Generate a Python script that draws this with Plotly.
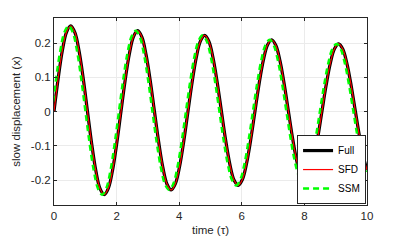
import plotly.graph_objects as go

t = [0, 0.1338, 0.2675, 0.4013, 0.535, 0.6688, 0.8025, 0.9363, 1.07, 1.2038, 1.3375, 1.4713,
     1.605, 1.7388, 1.8725, 2.0063, 2.14, 2.2738, 2.4075, 2.5413, 2.675, 2.8088, 2.9425, 3.0763,
     3.21, 3.3438, 3.4775, 3.6113, 3.745, 3.8788, 4.0125, 4.1463, 4.28, 4.4138, 4.5475, 4.6813,
     4.815, 4.9488, 5.0825, 5.2163, 5.35, 5.4838, 5.6175, 5.7513, 5.885, 6.0188, 6.1525, 6.2863,
     6.42, 6.5538, 6.6875, 6.8213, 6.955, 7.0888, 7.2225, 7.3563, 7.49, 7.6238, 7.7575, 7.8913,
     8.025, 8.1588, 8.2925, 8.4263, 8.56, 8.6938, 8.8275, 8.9613, 9.095, 9.2288, 9.3625, 9.4963,
     9.63, 9.7638, 9.8975, 10.0]

full = [0, 0.0969, 0.1783, 0.2321, 0.2503, 0.2304, 0.1757, 0.0947, 0, -0.0940, -0.1731, -0.2252,
        -0.2429, -0.2236, -0.1706, -0.0920, 0, 0.0913, 0.1680, 0.2188, 0.2359, 0.2171, 0.1655, 0.0893,
        0, -0.0886, -0.1631, -0.2123, -0.2290, -0.2107, -0.1607, -0.0866, 0, 0.0860, 0.1584, 0.2061,
        0.2223, 0.2046, 0.1561, 0.0841, 0, -0.0835, -0.1537, -0.2001, -0.2158, -0.1986, -0.1515, -0.0817,
        0, 0.0811, 0.1493, 0.1943, 0.2095, 0.1928, 0.1470, 0.0793, 0, -0.0787, -0.1449, -0.1886,
        -0.2033, -0.1872, -0.1427, -0.0770, 0, 0.0764, 0.1406, 0.1830, 0.1974, 0.1817, 0.1385, 0.0747,
        0, -0.0742, -0.1365, -0.1706]

sfd = [0, 0.0969, 0.1783, 0.2321, 0.2503, 0.2304, 0.1757, 0.0947, 0, -0.0940, -0.1731, -0.2252,
       -0.2429, -0.2236, -0.1706, -0.0920, 0, 0.0913, 0.1680, 0.2188, 0.2359, 0.2171, 0.1655, 0.0893,
       0, -0.0886, -0.1631, -0.2123, -0.2290, -0.2107, -0.1607, -0.0866, 0, 0.0860, 0.1584, 0.2061,
       0.2223, 0.2046, 0.1561, 0.0841, 0, -0.0835, -0.1537, -0.2001, -0.2158, -0.1986, -0.1515, -0.0817,
       0, 0.0811, 0.1493, 0.1943, 0.2095, 0.1928, 0.1470, 0.0793, 0, -0.0787, -0.1449, -0.1886,
       -0.2033, -0.1872, -0.1427, -0.0770, 0, 0.0764, 0.1406, 0.1830, 0.1974, 0.1817, 0.1385, 0.0747,
       0, -0.0742, -0.1365, -0.1706]

# SSM runs slightly ahead of Full (its own sample times)
t_ssm = [-0.065, 0.0688, 0.2025, 0.3363, 0.47, 0.6038, 0.7375, 0.8713, 1.005, 1.1388, 1.2725, 1.4063,
         1.54, 1.6738, 1.8075, 1.9413, 2.075, 2.2088, 2.3425, 2.4763, 2.61, 2.7438, 2.8775, 3.0113,
         3.145, 3.2788, 3.4125, 3.5463, 3.68, 3.8138, 3.9475, 4.0813, 4.215, 4.3488, 4.4825, 4.6163,
         4.75, 4.8838, 5.0175, 5.1513, 5.285, 5.4188, 5.5525, 5.6863, 5.82, 5.9538, 6.0875, 6.2213,
         6.355, 6.4888, 6.6225, 6.7563, 6.89, 7.0238, 7.1575, 7.2913, 7.425, 7.5588, 7.6925, 7.8263,
         7.96, 8.0938, 8.2275, 8.3613, 8.495, 8.6288, 8.7625, 8.8963, 9.03, 9.1638, 9.2975, 9.4313,
         9.565, 9.6988, 9.8325, 9.935, 10.0]

ssm = [0, 0.0969, 0.1783, 0.2321, 0.2503, 0.2304, 0.1757, 0.0947, 0, -0.0940, -0.1731, -0.2252,
       -0.2429, -0.2236, -0.1706, -0.0920, 0, 0.0913, 0.1680, 0.2188, 0.2359, 0.2171, 0.1655, 0.0893,
       0, -0.0886, -0.1631, -0.2123, -0.2290, -0.2107, -0.1607, -0.0866, 0, 0.0860, 0.1584, 0.2061,
       0.2223, 0.2046, 0.1561, 0.0841, 0, -0.0835, -0.1537, -0.2001, -0.2158, -0.1986, -0.1515, -0.0817,
       0, 0.0811, 0.1493, 0.1943, 0.2095, 0.1928, 0.1470, 0.0793, 0, -0.0787, -0.1449, -0.1886,
       -0.2033, -0.1872, -0.1427, -0.0770, 0, 0.0764, 0.1406, 0.1830, 0.1974, 0.1817, 0.1385, 0.0747,
       0, -0.0742, -0.1365, -0.1706, -0.1840]

xticks = [0, 2, 4, 6, 8, 10]
yticks = [-0.2, -0.1, 0, 0.1, 0.2]
yticklabels = ["-0.2", "-0.1", "0", "0.1", "0.2"]

font = "Liberation Sans, Arial, sans-serif"
axcol = "#262626"

fig = go.Figure()
fig.add_trace(go.Scatter(x=t, y=full, mode="lines", name="Full",
                         line=dict(color="black", width=3.2, shape="spline")))
fig.add_trace(go.Scatter(x=t, y=sfd, mode="lines", name="SFD",
                         line=dict(color="#ff0000", width=1.2, shape="spline")))
fig.add_trace(go.Scatter(x=t_ssm, y=ssm, mode="lines", name="SSM",
                         line=dict(color="#00ff00", width=2.5, dash="6px,4px", shape="spline")))

fig.update_layout(
    width=407, height=244,
    margin=dict(l=54, r=40, t=18, b=39),
    paper_bgcolor="white", plot_bgcolor="white",
    font=dict(family=font, size=11.5, color=axcol),
    showlegend=True,
    legend=dict(x=0.997, y=0.005, xanchor="right", yanchor="bottom",
                bgcolor="white", bordercolor=axcol, borderwidth=1,
                font=dict(size=10, color="black"), itemwidth=30,
                tracegroupgap=0, traceorder="normal"),
)
fig.update_xaxes(range=[0, 10], tickvals=xticks, ticks="inside", ticklen=3,
                 tickcolor=axcol, showline=True, linecolor=axcol, linewidth=1, mirror="ticks",
                 showgrid=True, gridcolor="#ebebeb", zeroline=False, automargin=False,
                 title=dict(text="time (τ)", font=dict(size=11.5, color=axcol), standoff=5))
fig.update_yaxes(range=[-0.273, 0.273], tickvals=yticks, ticktext=yticklabels,
                 ticks="inside", ticklen=3, tickcolor=axcol, showline=True, linecolor=axcol,
                 linewidth=1, mirror="ticks", showgrid=True, gridcolor="#ebebeb", zeroline=False,
                 automargin=False,
                 title=dict(text="slow displacement (x)", font=dict(size=11.5, color=axcol), standoff=7))

fig.write_html("out.html", config={"displayModeBar": False},
               post_script="document.body.style.margin='0';document.body.style.overflow='hidden';")
